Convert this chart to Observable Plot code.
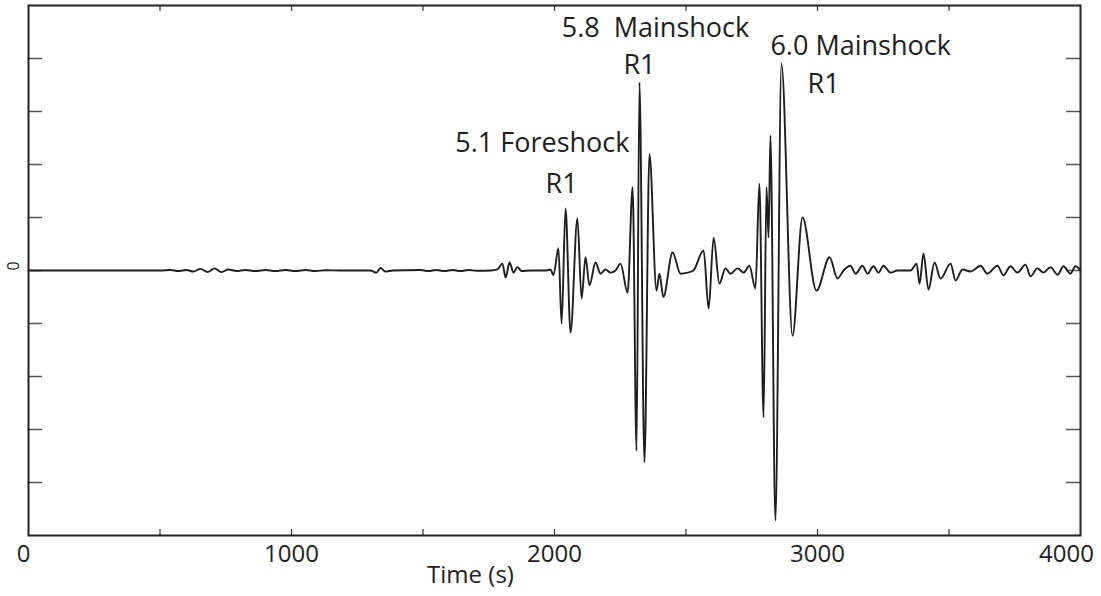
<!DOCTYPE html>
<html>
<head>
<meta charset="utf-8">
<script src="https://cdn.jsdelivr.net/npm/d3@7"></script>
<script src="https://cdn.jsdelivr.net/npm/@observablehq/plot@0.6"></script>
<style>
  html, body { margin: 0; padding: 0; background: #fff; }
  svg text { white-space: pre; }
</style>
</head>
<body>
<div id="chart"></div>
<script>
// Seismogram trace: time (s) and relative ground motion amplitude
const time = [
  0, 464, 502, 540, 570, 601, 627, 654, 681, 707, 734, 760, 791, 825, 863, 901,
  939, 977, 1015, 1053, 1091, 1129, 1186, 1300, 1323, 1338, 1357, 1384, 1490, 1521,
  1551, 1582, 1612, 1643, 1673, 1703, 1757, 1783, 1802, 1814, 1829, 1844, 1859, 1875,
  1909, 1966, 1985, 1996, 2015, 2027, 2042, 2061, 2087, 2103, 2118, 2133, 2156, 2175,
  2194, 2213, 2232, 2251, 2278, 2297, 2312, 2323, 2342, 2361, 2388, 2399, 2414, 2449,
  2479, 2506, 2528, 2567, 2586, 2605, 2627, 2650, 2669, 2696, 2719, 2741, 2764, 2779,
  2795, 2806, 2814, 2821, 2840, 2863, 2905, 2943, 2996, 3046, 3076, 3099, 3125, 3145,
  3171, 3190, 3213, 3232, 3251, 3278, 3304, 3354, 3377, 3388, 3403, 3422, 3445, 3468,
  3506, 3525, 3551, 3582, 3620, 3646, 3684, 3707, 3734, 3760, 3791, 3810, 3836, 3859,
  3886, 3913, 3935, 3962, 3981, 4000
];
const amplitude = [
  0, 0, 0, 0.01, -0.01, 0.01, -0.02, 0.03, -0.03, 0.04, -0.03, 0.02, -0.01, 0.01, -0.01, 0.01,
  -0.01, 0.01, -0.01, 0.01, -0.01, 0.005, 0, 0, -0.04, 0.05, -0.02, 0, 0.01, -0.01,
  0.01, -0.01, 0.01, -0.01, 0.01, -0.005, 0, 0.02, 0.13, -0.13, 0.15, -0.04, 0.06, -0.01,
  0, 0, 0.02, -0.09, 0.42, -1.0, 1.17, -1.17, 0.98, -0.53, 0.25, -0.28, 0.15, -0.06,
  0.02, -0.04, 0, 0.13, -0.42, 1.57, -3.4, 3.55, -3.62, 2.2, -0.38, -0.06, -0.5, 0.34,
  -0.06, -0.04, 0, 0.38, -0.72, 0.62, -0.25, 0.04, -0.06, 0.04, -0.04, 0.09, -0.34, 1.64,
  -2.77, 1.57, 0.62, 2.55, -4.72, 3.9, -1.23, 1.0, -0.38, 0.25, -0.15, 0, 0.09, -0.06,
  0.09, -0.06, 0.08, -0.04, 0.09, -0.04, 0, 0, 0.13, -0.25, 0.32, -0.36, 0.15, -0.15,
  0.13, -0.19, 0.02, -0.02, 0.09, -0.06, 0.09, -0.09, 0.08, -0.04, 0.11, -0.11, 0.04, -0.04,
  0.06, -0.08, 0.08, -0.06, 0.08, 0
];

// Axis ticks
const xTickLabels = [0, 1000, 2000, 3000, 4000];
const xMinorTicks = [500, 1000, 1500, 2000, 2500, 3000, 3500];
const yTicks = [-4, -3, -2, -1, 0, 1, 2, 3, 4];

// Event annotations (anchored in time / amplitude units)
const noteText = ["5.1 Foreshock", "R1", "5.8  Mainshock", "R1", "6.0 Mainshock", "R1"];
const noteTime = [1954, 2027, 2384, 2323, 3164, 3023];
const noteLevel = [2.23, 1.47, 4.40, 3.70, 4.06, 3.34];

const trace = time.map((t, i) => ({t, a: amplitude[i]}));
const notes = noteText.map((s, i) => ({s, t: noteTime[i], a: noteLevel[i]}));

const W = 1101, H = 596;
const mL = 28, mR = 21, mT = 5, mB = 61;
const fw = W - mL - mR, fh = H - mT - mB;
const ink = "#1e1e1e";

const chart = Plot.plot({
  width: W,
  height: H,
  marginLeft: mL,
  marginRight: mR,
  marginTop: mT,
  marginBottom: mB,
  x: {domain: [0, 4000], axis: null},
  y: {domain: [-5, 5], axis: null},
  style: {fontFamily: "'Open Sans', sans-serif", background: "#fff", color: ink},
  marks: [
    // inward tick marks on all four sides
    Plot.tickY(yTicks, {y: d => d, insetRight: fw - 14, stroke: "#555", strokeWidth: 1.5}),
    Plot.tickY(yTicks, {y: d => d, insetLeft: fw - 14, stroke: "#555", strokeWidth: 1.5}),
    Plot.tickX(xMinorTicks, {x: d => d, insetTop: fh - 6, stroke: "#333", strokeWidth: 1.2}),
    Plot.tickX(xMinorTicks, {x: d => d, insetBottom: fh - 6, stroke: "#333", strokeWidth: 1.2}),
    // waveform
    Plot.line(trace, {x: "t", y: "a", curve: "monotone-x", stroke: ink, strokeWidth: 1.9}),
    Plot.frame({stroke: "#222", strokeWidth: 2}),
    // x tick labels
    Plot.text(xTickLabels.slice(0, 1), {x: d => d, frameAnchor: "bottom", text: d => String(d),
      lineAnchor: "top", dy: 9, dx: -5, fontSize: 24, fill: ink}),
    Plot.text(xTickLabels.slice(1, -1), {x: d => d, frameAnchor: "bottom", text: d => String(d),
      lineAnchor: "top", dy: 9, fontSize: 24, fill: ink}),
    Plot.text(xTickLabels.slice(-1), {x: d => d, frameAnchor: "bottom", text: d => String(d),
      lineAnchor: "top", dy: 9, dx: -14, fontSize: 24, fill: ink}),
    // x axis title
    Plot.text(["Time (s)"], {frameAnchor: "bottom", text: d => d, lineAnchor: "bottom",
      dx: -84, dy: 47, fontSize: 24, fill: ink}),
    // y zero label
    Plot.text([0], {y: d => d, frameAnchor: "left", text: d => String(d), rotate: -90,
      dx: -15, fontSize: 16, fill: ink}),
    // event annotations
    Plot.text(notes, {x: "t", y: "a", text: "s", lineAnchor: "bottom", fontSize: 27, fill: ink})
  ]
});

document.getElementById("chart").appendChild(chart);
</script>
</body>
</html>
